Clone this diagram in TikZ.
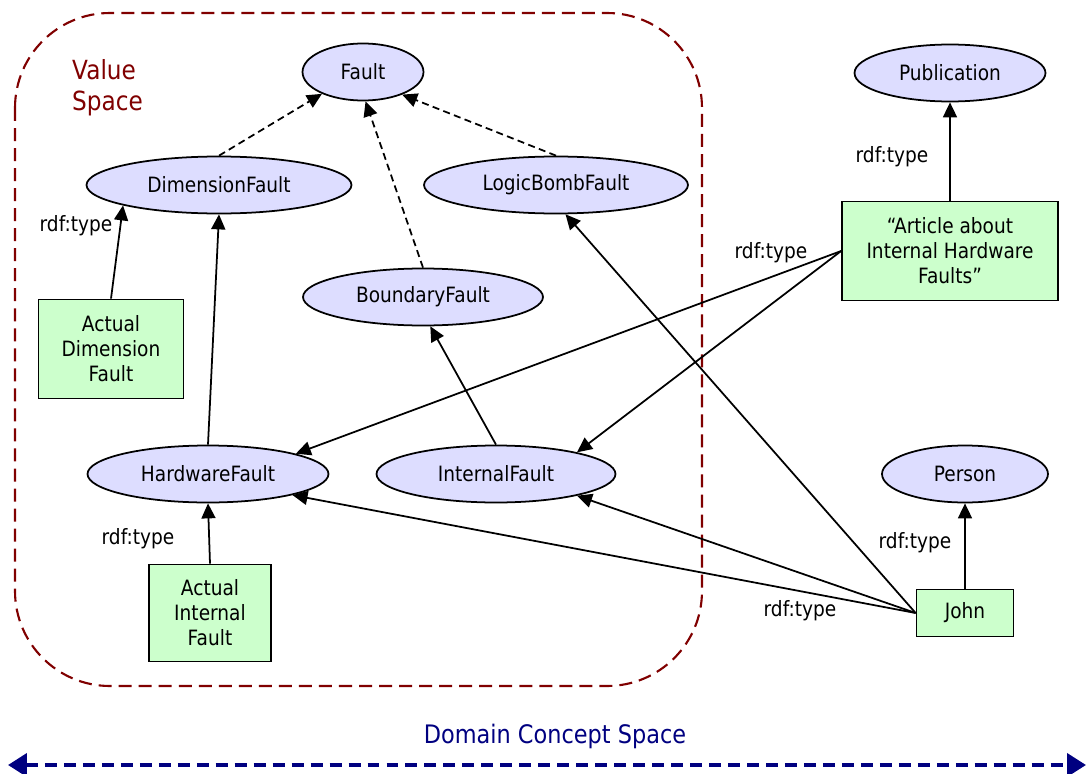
\documentclass[tikz,border=0pt]{standalone}
\usepackage{fontspec}
\setmainfont[FakeStretch=0.88]{DejaVu Sans}
\usetikzlibrary{positioning,shapes,arrows.meta}
\definecolor{conceptblue}{RGB}{221,221,255}
\definecolor{instgreen}{RGB}{204,255,204}
\definecolor{spacered}{RGB}{128,0,0}
\definecolor{domainblue}{RGB}{0,0,128}
\tikzstyle{concept}=[ellipse, draw=black, line width=1pt, fill=conceptblue,
        inner sep=0pt, minimum height=1.14cm]
\tikzstyle{instance}=[rectangle, draw=black, line width=1pt, fill=instgreen,
        text centered, align=center, inner sep=0pt]
\tikzstyle{typeof}=[-{Triangle[length=0.3cm,width=0.28cm]}, line width=1pt]
\tikzstyle{subclass}=[typeof, dash pattern=on 4pt off 2.5pt]
\tikzstyle{edgelabel}=[inner sep=0pt]

\begin{document}
\begin{tikzpicture}[x=0.02cm, y=-0.02cm, font=\fontsize{12}{14.2}\selectfont]
        \useasboundingbox (0,0) rectangle (1086,774);
        % value space
        \draw[spacered, line width=1.2pt, dash pattern=on 7.4pt off 4pt, rounded corners=1.9cm]
          (15,13) rectangle (702,686);
        \node (valuespace) [spacered, font=\fontsize{15}{17.5}\selectfont, align=left, anchor=west]
          at (66,88) {Value\\Space};

        % classes
        \node (fault) [concept, minimum width=2.42cm] at (363,72) {Fault};
        \node (dimfault) [concept, minimum width=5.3cm] at (219,185) {DimensionFault};
        \node (lbfault) [concept, minimum width=5.28cm] at (556,185) {LogicBombFault};
        \node (bfault) [concept, minimum width=4.8cm] at (423,297) {BoundaryFault};
        \node (hwfault) [concept, minimum width=4.82cm] at (208,474) {HardwareFault};
        \node (ifault) [concept, minimum width=4.78cm] at (496,474) {InternalFault};
        \node (pub) [concept, minimum width=3.82cm] at (950,73) {Publication};
        \node (person) [concept, minimum width=3.32cm] at (965,474) {Person};

        % instances
        \node (adfault) [instance, minimum width=2.9cm, minimum height=1.98cm] at (111,349)
        {
          Actual\\Dimension\\Fault
        };
        \node (aifault) [instance, minimum width=2.44cm, minimum height=1.94cm] at (210,613)
        {
          Actual\\Internal\\Fault
        };
        \node (article) [instance, minimum width=4.32cm, minimum height=1.98cm] at (950,251)
        {
          “Article about\\Internal Hardware\\Faults”
        };
        \node (john) [instance, minimum width=1.94cm, minimum height=0.94cm] at (965,613) {John};

        % subclass links
        \draw[subclass] (dimfault.north) -- (fault.208);
        \draw[subclass] (bfault.north) -- (fault.-85);
        \draw[subclass] (lbfault.north) -- (fault.-30);

        % typing links
        \draw[typeof] (adfault.north) -- (dimfault.192);
        \draw[typeof] (hwfault.north) -- (dimfault.south);
        \draw[typeof] (ifault.north) -- (bfault.-76);
        \draw[typeof] (article.west) -- (hwfault.13);
        \draw[typeof] (article.west) -- (ifault.15);
        \draw[typeof] (article.north) -- (pub.south);
        \draw[typeof] (aifault.north) -- (hwfault.south);
        \draw[typeof] (john.west) -- (hwfault.-14);
        \draw[typeof] (john.west) -- (ifault.-15);
        \draw[typeof] (john.west) -- (lbfault.-72);
        \draw[typeof] (john.north) -- (person.south);

        \node (typeadf) [edgelabel] at (76,226) {rdf:type};
        \node (typepub) [edgelabel] at (892,157) {rdf:type};
        \node (typeart) [edgelabel] at (771,253) {rdf:type};
        \node (typeaif) [edgelabel] at (138,539) {rdf:type};
        \node (typeperson) [edgelabel] at (915,543) {rdf:type};
        \node (typejohn) [edgelabel] at (800,611) {rdf:type};

        % domain concept space
        \node (domain) [domainblue, font=\fontsize{14.5}{17}\selectfont] at (555,736) {Domain Concept Space};
        \coordinate (dleft) at (8,765);
        \coordinate (dright) at (1086,765);
        \draw[domainblue, line width=2.3pt, dash pattern=on 6.8pt off 4pt,
          {Triangle[length=0.38cm,width=0.46cm]}-{Triangle[length=0.38cm,width=0.46cm]}]
          (dleft) -- (dright);
\end{tikzpicture}
\end{document}
